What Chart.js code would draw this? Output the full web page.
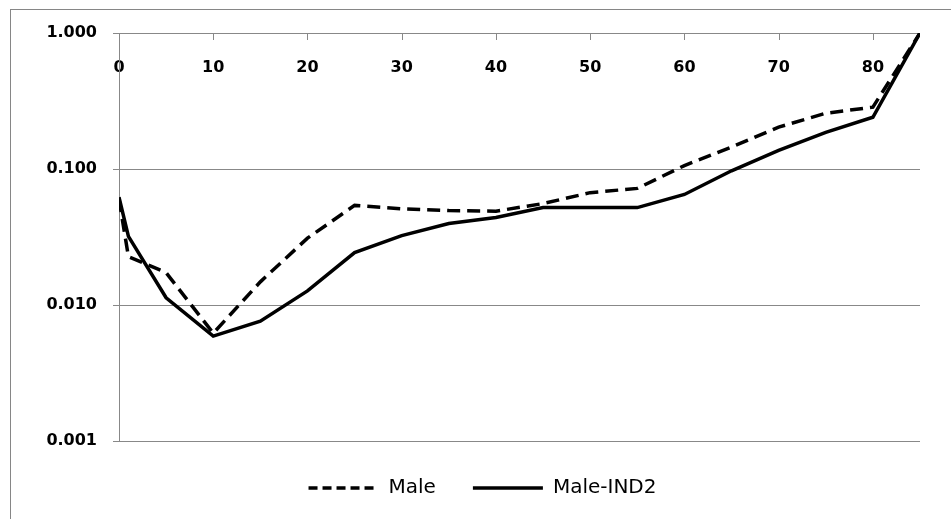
<!DOCTYPE html>
<html>
<head>
<meta charset="utf-8">
<script src="https://cdn.jsdelivr.net/npm/chart.js@4.4.0/dist/chart.umd.min.js"></script>
<style>
    html, body { margin: 0; padding: 0; background: #fff; overflow: hidden; }
    #wrap { position: relative; width: 951px; height: 519px; }
    #frame { position: absolute; left: 10px; top: 9px; width: 1000px; height: 600px; border: 1px solid #868686; box-sizing: border-box; pointer-events: none; }
    canvas { position: absolute; left: 0; top: 0; }
</style>
</head>
<body>
<div id="wrap">
    <canvas id="mortalityChart" width="951" height="519"></canvas>
    <div id="frame"></div>
</div>
<script>
// ages (x) and rates (log y)
const ages = [0, 1, 5, 10, 15, 20, 25, 30, 35, 40, 45, 50, 55, 60, 65, 70, 75, 80, 85];
const male = [0.060, 0.0227, 0.0173, 0.0062, 0.0148, 0.031, 0.054, 0.051, 0.0495, 0.049, 0.0557, 0.067, 0.072, 0.106, 0.145, 0.203, 0.257, 0.285, 1.0];
const maleInd2 = [0.062, 0.032, 0.0113, 0.0059, 0.0076, 0.0127, 0.0243, 0.0324, 0.0397, 0.044, 0.052, 0.052, 0.052, 0.065, 0.097, 0.137, 0.186, 0.240, 1.0];
const xTicks = [0, 10, 20, 30, 40, 50, 60, 70, 80];
const yTicks = [0.001, 0.01, 0.1, 1];

const gridGray = '#888888';
const tickFont = { family: 'DejaVu Sans', size: 16, weight: 'bold' };

// short tick marks pointing down from the top axis, like the original
const innerTicks = {
    id: 'innerTicks',
    beforeDatasetsDraw(chart) {
        let x = chart.scales.x;
        let top = chart.chartArea.top;
        let ctx = chart.ctx;
        ctx.save();
        ctx.strokeStyle = gridGray;
        ctx.lineWidth = 1;
        x.ticks.forEach(t => {
            let px = Math.round(x.getPixelForValue(t.value)) + 0.5;
            ctx.beginPath();
            ctx.moveTo(px, top);
            ctx.lineTo(px, top + 7);
            ctx.stroke();
        });
        ctx.restore();
    }
};

new Chart(document.getElementById('mortalityChart'), {
    type: 'line',
    data: {
        datasets: [{
            label: 'Male',
            data: ages.map((a, i) => ({ x: a, y: male[i] })),
            borderColor: '#000',
            backgroundColor: '#000',
            borderWidth: 3.5,
            borderDash: [13, 7],
            pointRadius: 0,
            tension: 0
        }, {
            label: 'Male-IND2',
            data: ages.map((a, i) => ({ x: a, y: maleInd2[i] })),
            borderColor: '#000',
            backgroundColor: '#000',
            borderWidth: 3.5,
            pointRadius: 0,
            tension: 0
        }]
    },
    options: {
        responsive: false,
        animation: false,
        devicePixelRatio: 1,
        layout: { padding: { top: 33, left: 45, right: 31, bottom: 11 } },
        plugins: {
            tooltip: { enabled: false },
            legend: {
                position: 'bottom',
                labels: {
                    usePointStyle: true,
                    pointStyle: 'line',
                    pointStyleWidth: 70,
                    padding: 37,
                    color: '#000',
                    font: { family: 'DejaVu Sans', size: 20 },
                    generateLabels: chart => {
                        let items = Chart.defaults.plugins.legend.labels.generateLabels(chart);
                        items.forEach((item, i) => {
                            item.lineDash = chart.data.datasets[i].borderDash ? [9, 5] : [];
                            item.lineWidth = 3.5;
                        });
                        return items;
                    }
                }
            }
        },
        scales: {
            x: {
                type: 'linear',
                position: 'top',
                min: 0,
                max: 85,
                afterBuildTicks: scale => { scale.ticks = xTicks.map(v => ({ value: v })); },
                afterFit: scale => { scale.height = 0; },
                grid: { display: false, drawTicks: false },
                border: { display: false },
                ticks: {
                    mirror: true,
                    padding: 25,
                    color: '#000',
                    font: tickFont
                }
            },
            y: {
                type: 'logarithmic',
                min: 0.001,
                max: 1,
                afterBuildTicks: scale => { scale.ticks = yTicks.map(v => ({ value: v })); },
                afterFit: scale => { scale.width = 74; },
                grid: { color: gridGray, tickLength: 6 },
                border: { color: gridGray },
                ticks: {
                    padding: 16,
                    color: '#000',
                    font: tickFont,
                    callback: v => Number(v).toFixed(3)
                }
            }
        }
    },
    plugins: [innerTicks]
});
</script>
</body>
</html>
